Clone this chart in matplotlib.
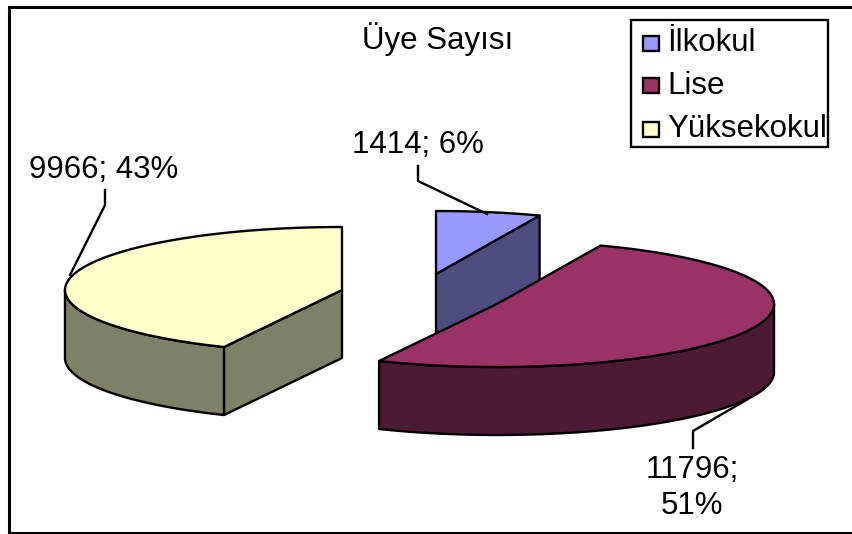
import numpy as np
import matplotlib
matplotlib.use("Agg")
import matplotlib.pyplot as plt
from matplotlib.patches import Polygon, Rectangle

categories = ["İlkokul", "Lise", "Yüksekokul"]
values = [1414, 11796, 9966]
percents = [6, 51, 43]
title = "Üye Sayısı"

top_colors = ["#9999FF", "#993366", "#FFFFCC"]
side_colors = ["#4D4D80", "#4D1A33", "#808066"]
centers = [(436, 274), (497, 304), (342, 290)]
RX, RY, DEPTH = 277, 63, 68
FONT = 22.5
LW = 1.7

plt.rcParams["font.family"] = ["Liberation Sans", "DejaVu Sans"]
fig = plt.figure(figsize=(8.52, 5.34), dpi=100)
ax = fig.add_axes([0, 0, 1, 1])
ax.set_xlim(0, 852)
ax.set_ylim(534, 0)
ax.axis("off")

ax.add_patch(Rectangle((9, 7), 870, 526, fc="white", ec="black", lw=2.2, zorder=0))


def point(c, deg):
    a = np.radians(deg)
    return c[0] + RX * np.sin(a), c[1] - RY * np.cos(a)


def arc(c, a0, a1, n=120):
    a = np.radians(np.linspace(a0, a1, n))
    return np.column_stack([c[0] + RX * np.sin(a), c[1] - RY * np.cos(a)])


total = sum(values)
edges = np.concatenate([[0], np.cumsum(values) / total * 360])


def face(pts, color, z):
    ax.add_patch(Polygon(pts, closed=True, fc=color, ec="black", lw=LW,
                         joinstyle="round", zorder=z))


# İlkokul: cut face toward the viewer, then top surface
c = centers[0]
a0, a1 = edges[0], edges[1]
p = point(c, a1)
face([c, p, (p[0], p[1] + DEPTH), (c[0], c[1] + DEPTH)], side_colors[0], 1)
face(np.vstack([[c], arc(c, a0, a1)]), top_colors[0], 2)

# Lise: outer wall, then top surface
c = centers[1]
a0, a1 = edges[1], edges[2]
wall = arc(c, 90, a1)
face(np.vstack([wall, (wall + [0, DEPTH])[::-1]]), side_colors[1], 3)
face(np.vstack([[c], arc(c, a0, a1)]), top_colors[1], 4)

# Yüksekokul: outer wall and cut face, then top surface
c = centers[2]
a0, a1 = edges[2], edges[3]
wall = arc(c, a0, 270)
face(np.vstack([wall, (wall + [0, DEPTH])[::-1]]), side_colors[2], 3)
p = point(c, a0)
face([c, p, (p[0], p[1] + DEPTH), (c[0], c[1] + DEPTH)], side_colors[2], 3)
face(np.vstack([[c], arc(c, a0, a1)]), top_colors[2], 4)

# Leader lines
leaders = [[(418, 166), (418, 181), (487, 214)],
           [(693, 448), (693, 431), (748, 399)],
           [(105, 190), (105, 205), (70, 275)]]
for pts in leaders:
    xs, ys = zip(*pts)
    ax.plot(xs, ys, color="black", lw=LW, zorder=5)

# Data labels
label_pos = [(418, 145), (692, 488), (104, 170)]
for i, (x, y) in enumerate(label_pos):
    sep = "\n" if i == 1 else " "
    ax.text(x, y, f"{values[i]};{sep}{percents[i]}%", fontsize=FONT, ha="center",
            va="center", linespacing=1.3, zorder=6)

ax.text(438, 39, title, fontsize=FONT, ha="center", va="center", zorder=6)

# Legend
ax.add_patch(Rectangle((631, 20), 197, 127, fc="white", ec="black", lw=LW, zorder=6))
for name, col, y in zip(categories, top_colors, [43, 85.5, 129]):
    ax.add_patch(Rectangle((643, y - 7.5), 16, 15, fc=col, ec="black", lw=LW, zorder=7))
    ax.text(667, y, name, fontsize=FONT, ha="left", va="center", zorder=7)

fig.savefig("out.png", dpi=100)
